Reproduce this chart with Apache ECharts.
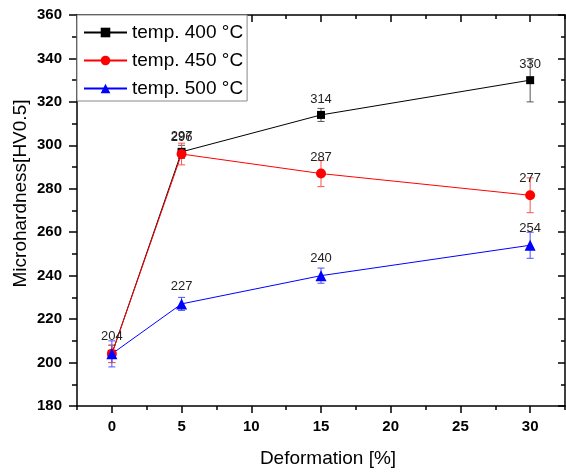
<!DOCTYPE html>
<html><head><meta charset="utf-8">
<script src="https://cdn.jsdelivr.net/npm/echarts@6/dist/echarts.min.js"></script>
<style>html,body{margin:0;padding:0;background:#fff}#c{width:566px;height:473px}</style>
</head><body><div id="c"></div>
<script>
const deformation = [0, 5, 15, 30];
const seriesNames = ['temp. 400 °C', 'temp. 450 °C', 'temp. 500 °C'];
const hardness400 = [204, 297, 314, 330];
const hardness450 = [204, 296, 287, 277];
const hardness500 = [204, 227, 240, 254];
const error400 = [4, 3, 3, 10];
const error450 = [4, 5, 6, 8];
const error500 = [6, 3, 3.5, 6];
const labelShown400 = [false, true, true, true];
const labelShown450 = [false, true, true, true];
const labelShown500 = [true, true, true, true];
const xMajorTicks = [0, 5, 10, 15, 20, 25, 30];

const FONT = '"Liberation Sans", Arial, sans-serif';
const chart = echarts.init(document.getElementById('c'));

function lineSeries(name, values, shown, color, symbol, size) {
  return {
    type: 'line', name: name, xAxisIndex: 0, yAxisIndex: 0,
    data: deformation.map((x, i) => ({ value: [x, values[i]], label: { show: shown[i] } })),
    symbol: symbol, symbolSize: size,
    itemStyle: { color: color },
    lineStyle: { color: color, width: 1 },
    label: { show: true, position: 'top', distance: 5, fontSize: 13, color: '#222', fontFamily: FONT },
    z: 3
  };
}
function errorSeries(id, values, errors, color) {
  return {
    type: 'custom', name: id, xAxisIndex: 0, yAxisIndex: 0, silent: true, z: 2,
    data: deformation.map((x, i) => [x, values[i] - errors[i], values[i] + errors[i]]),
    encode: { x: 0, y: [1, 2] },
    renderItem: function (params, api) {
      const x = api.value(0);
      const lo = api.coord([x, api.value(1)]);
      const hi = api.coord([x, api.value(2)]);
      const w = 3.5;
      const st = { stroke: color, lineWidth: 1 };
      return { type: 'group', children: [
        { type: 'line', shape: { x1: lo[0], y1: lo[1], x2: hi[0], y2: hi[1] }, style: st },
        { type: 'line', shape: { x1: lo[0] - w, y1: lo[1], x2: lo[0] + w, y2: lo[1] }, style: st },
        { type: 'line', shape: { x1: hi[0] - w, y1: hi[1], x2: hi[0] + w, y2: hi[1] }, style: st }
      ]};
    }
  };
}
const axisLineStyle = { color: '#000', width: 1.5 };
function xAx(pos, major) {
  return {
    type: 'value', position: pos, min: -2.5, max: 32.5, interval: 2.5,
    axisLine: { show: major, onZero: false, lineStyle: axisLineStyle },
    axisTick: major ? { show: true, inside: pos === 'top', length: 7, customValues: xMajorTicks, lineStyle: axisLineStyle }
                    : { show: true, inside: pos === 'top', length: 4, lineStyle: axisLineStyle },
    axisLabel: { show: major && pos === 'bottom', formatter: v => (v % 5 === 0 ? String(v) : ''),
      fontSize: 15, fontWeight: 'bold', color: '#000', margin: 13, fontFamily: FONT },
    splitLine: { show: false }
  };
}
const xMain = xAx('bottom', true);
xMain.name = 'Deformation [%]';
xMain.nameLocation = 'middle';
xMain.nameGap = 43;
xMain.nameTextStyle = { fontSize: 19, color: '#000', fontFamily: FONT, padding: [0, 0, 0, 14] };

chart.setOption({
  animation: false,
  textStyle: { fontFamily: FONT },
  grid: { left: 77, right: 1, top: 15, bottom: 67, containLabel: false, outerBoundsMode: 'none' },
  legend: {
    left: 77, top: 15, orient: 'vertical', data: seriesNames,
    itemWidth: 43, itemHeight: 12, itemGap: 9, padding: [8, 4, 3, 6],
    backgroundColor: '#fff', borderColor: '#888', borderWidth: 1,
    textStyle: { fontSize: 19, color: '#000', fontFamily: FONT }
  },
  xAxis: [xMain, xAx('bottom', false), xAx('top', true), xAx('top', false)],
  yAxis: [
    {
      type: 'value', position: 'left', min: 180, max: 360, interval: 20,
      axisLine: { show: true, onZero: false, lineStyle: axisLineStyle },
      axisTick: { show: true, length: 8, lineStyle: axisLineStyle },
      minorTick: { show: true, splitNumber: 2, length: 5, lineStyle: axisLineStyle },
      axisLabel: { fontSize: 15, fontWeight: 'bold', color: '#000', margin: 15, fontFamily: FONT },
      splitLine: { show: false },
      name: 'Microhardness[HV0.5]', nameLocation: 'middle', nameGap: 47, nameMoveOverlap: false,
      nameTextStyle: { fontSize: 19, color: '#000', fontFamily: FONT, padding: [0, 0, 0, 34] }
    },
    {
      type: 'value', position: 'right', min: 180, max: 360, interval: 20,
      axisLine: { show: true, onZero: false, lineStyle: axisLineStyle },
      axisTick: { show: true, inside: true, length: 7, lineStyle: axisLineStyle },
      minorTick: { show: true, splitNumber: 2, length: 4, lineStyle: axisLineStyle },
      axisLabel: { show: false },
      splitLine: { show: false }
    }
  ],
  series: [
    errorSeries('err400', hardness400, error400, '#555555'),
    errorSeries('err450', hardness450, error450, '#ff5050'),
    errorSeries('err500', hardness500, error500, '#5050ff'),
    lineSeries(seriesNames[0], hardness400, labelShown400, '#000000', 'rect', 8),
    lineSeries(seriesNames[1], hardness450, labelShown450, '#ff0000', 'circle', 10),
    lineSeries(seriesNames[2], hardness500, labelShown500, '#0000ff', 'triangle', 11)
  ]
});
</script></body></html>
